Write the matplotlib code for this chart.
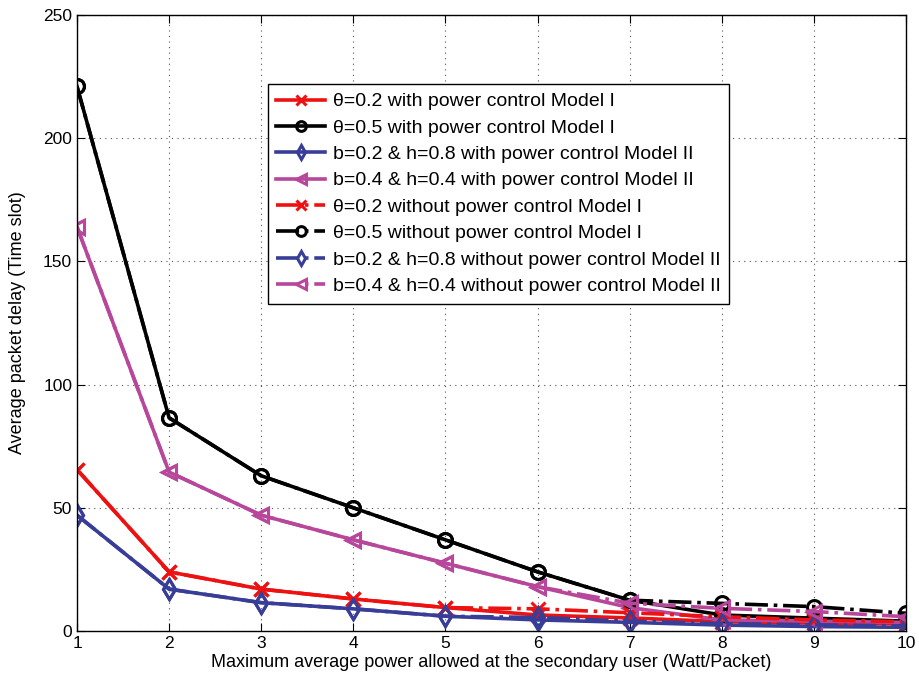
import matplotlib
matplotlib.use("Agg")
import matplotlib.pyplot as plt

plt.rcParams['font.family'] = ['Liberation Sans', 'DejaVu Sans']

# Max average power (Watt/Packet)
power = [1, 2, 3, 4, 5, 6, 7, 8, 9, 10]

# with power control
m1_theta02_pc = [65.5, 24, 17, 13, 9.5, 6.5, 5.3, 3.8, 3.2, 3.0]
m1_theta05_pc = [221, 86.5, 63, 50, 37, 24, 12.5, 6.5, 5.2, 4.0]
m2_b02_pc = [47, 17, 11.5, 9, 6, 4.5, 3.5, 2.4, 1.8, 1.5]
m2_b04_pc = [164, 64.5, 47, 37, 27.5, 18, 9.5, 4.5, 4.0, 3.5]

# without power control
m1_theta02_npc = [65.5, 24, 17, 13, 9.5, 9.0, 7.4, 5.8, 4.5, 3.8]
m1_theta05_npc = [221, 86.5, 63, 50, 37, 24, 12.5, 11.2, 9.9, 7.2]
m2_b02_npc = [47, 17, 11.5, 9, 6, 5.5, 4.0, 3.0, 2.5, 2.0]
m2_b04_npc = [164, 64.5, 47, 37, 27.5, 18, 11.3, 9.2, 7.9, 5.8]

red = '#ee1111'
black = '#000000'
blue = '#383e98'
magenta = '#b8479c'

fig = plt.figure(figsize=(9.19, 6.81), dpi=100)
ax = fig.add_axes([77 / 919, 50 / 681, 829 / 919, 616 / 681])

lw = 2.6
mk = dict(markersize=10, markeredgewidth=2.2)

ax.plot(power, m1_theta02_pc, '-', color=red, marker='x', lw=lw, **mk,
        label='θ=0.2 with power control Model I')
ax.plot(power, m1_theta05_pc, '-', color=black, marker='o', mfc='none', lw=lw, **mk,
        label='θ=0.5 with power control Model I')
ax.plot(power, m2_b02_pc, '-', color=blue, marker='d', mfc='none', lw=lw, **mk,
        label='b=0.2 & h=0.8 with power control Model II')
ax.plot(power, m2_b04_pc, '-', color=magenta, marker='<', mfc='none', lw=lw, **mk,
        label='b=0.4 & h=0.4 with power control Model II')
ax.plot(power, m1_theta02_npc, '-.', color=red, marker='x', lw=lw, **mk,
        label='θ=0.2 without power control Model I')
ax.plot(power, m1_theta05_npc, '-.', color=black, marker='o', mfc='none', lw=lw, **mk,
        label='θ=0.5 without power control Model I')
ax.plot(power, m2_b02_npc, '-.', color=blue, marker='d', mfc='none', lw=lw, **mk,
        label='b=0.2 & h=0.8 without power control Model II')
ax.plot(power, m2_b04_npc, '-.', color=magenta, marker='<', mfc='none', lw=lw, **mk,
        label='b=0.4 & h=0.4 without power control Model II')

ax.set_xlim(1, 10)
ax.set_ylim(0, 250)
ax.set_xticks(power)
ax.set_yticks([0, 50, 100, 150, 200, 250])
ax.grid(True, linestyle=(0, (1, 4)), color='#555555', linewidth=0.8)
ax.tick_params(direction='in', labelsize=12.5, length=6, top=True, right=True)
for s in ax.spines.values():
    s.set_linewidth(1.0)

ax.set_xlabel('Maximum average power allowed at the secondary user (Watt/Packet)',
              fontsize=13, labelpad=2)
ax.set_ylabel('Average packet delay (Time slot)', fontsize=13, labelpad=12)

leg = ax.legend(loc='upper left', bbox_to_anchor=(0.23, 0.888), borderaxespad=0,
                fontsize=14, handlelength=2.5, labelspacing=0.45, borderpad=0.45,
                fancybox=False, framealpha=1, edgecolor='black',
                handletextpad=0.4, markerscale=0.7)
leg.get_frame().set_linewidth(1.0)

fig.savefig('out.png', dpi=100)
